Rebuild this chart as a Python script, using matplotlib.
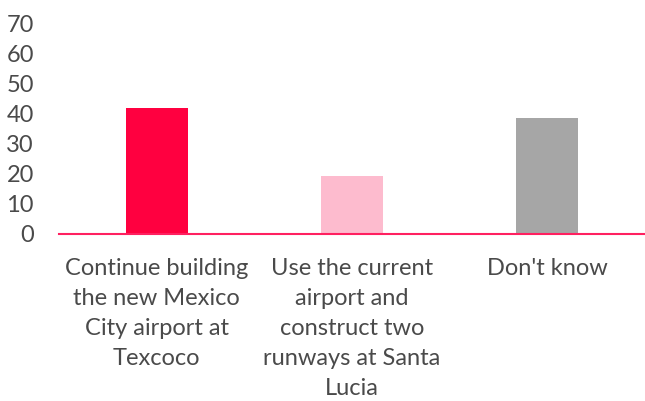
import matplotlib.pyplot as plt

categories = [
    "Continue building\nthe new Mexico\nCity airport at\nTexcoco",
    "Use the current\nairport and\nconstruct two\nrunways at Santa\nLucia",
    "Don't know",
]
values = [42, 19.3, 38.7]
colors = ["#FF0040", "#FDBBCE", "#A6A6A6"]
yticks = [0, 10, 20, 30, 40, 50, 60, 70]

plt.rcParams['font.family'] = ['Lato', 'DejaVu Sans']

fig = plt.figure(figsize=(6.45, 4.01), dpi=100)
ax = fig.add_axes([59 / 645, 1 - 234 / 401, 1 - 59 / 645, 210 / 401])

x = range(len(categories))
ax.bar(x, values, width=0.316, color=colors)

ax.set_xlim(-0.5, 2.5)
ax.set_ylim(0, 70)
ax.set_yticks(yticks)
ax.set_yticklabels([str(t) for t in yticks], fontsize=17, color="#4a4a4a")
ax.set_xticks(list(x))
ax.set_xticklabels(categories, fontsize=17, color="#4a4a4a", linespacing=1.53, va='top')
ax.tick_params(axis='both', length=0)
ax.tick_params(axis='y', pad=18)
ax.tick_params(axis='x', pad=17)

for s in ["top", "right", "left"]:
    ax.spines[s].set_visible(False)
ax.spines["bottom"].set_color("#FF2060")
ax.spines["bottom"].set_linewidth(1.5)

fig.savefig("out.png", dpi=100)
